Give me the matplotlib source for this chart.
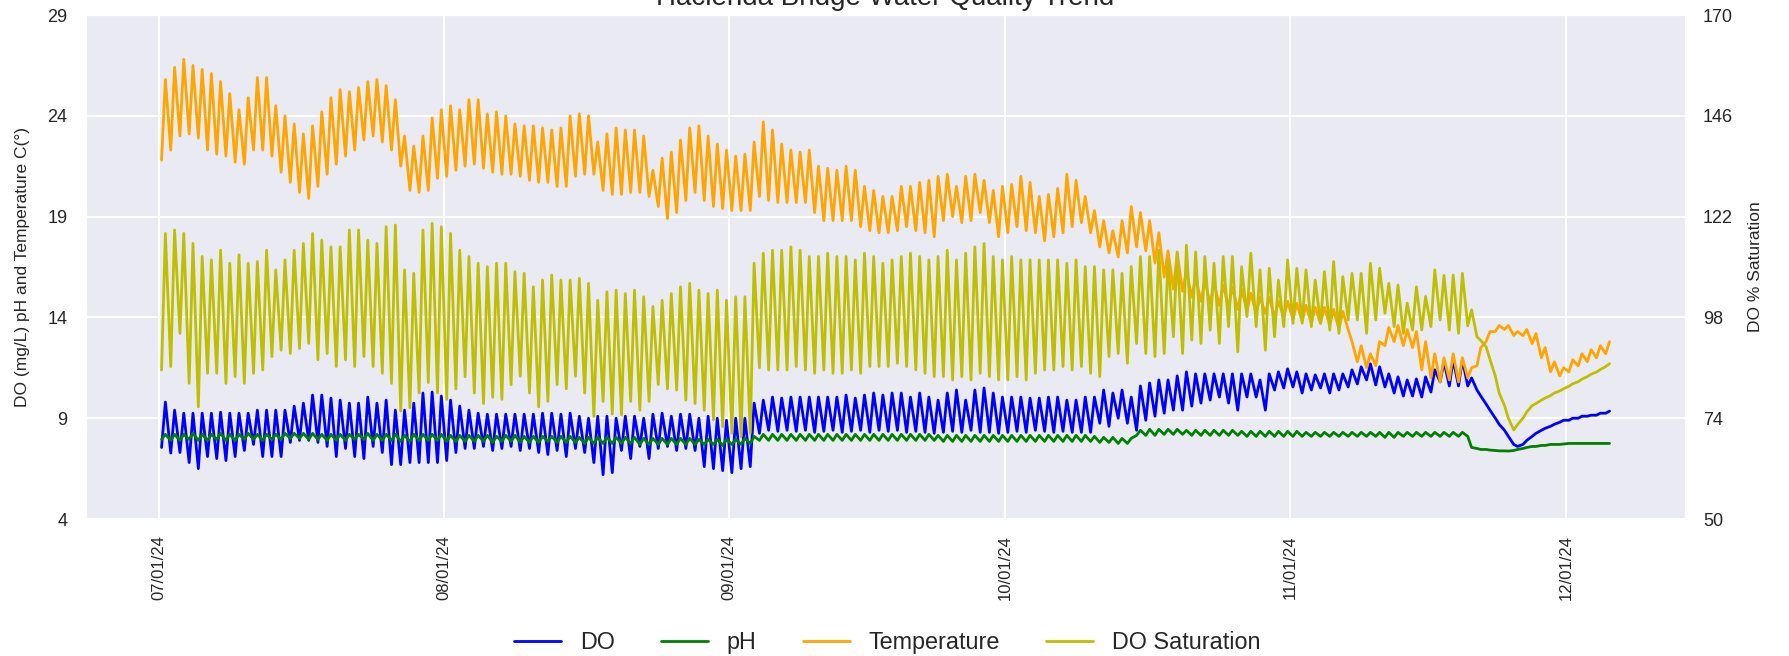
import matplotlib
matplotlib.use('Agg')
import matplotlib.pyplot as plt
import matplotlib.dates as mdates
import numpy as np
import pandas as pd
import seaborn as sns

START = '2024-07-01'

# one pair of readings per day from 07/01/24: morning (~07:00) and afternoon (~17:00)
temp_am = [
    21.8, 22.3, 23.0, 23.1, 22.9, 22.3, 22.1, 22.0, 21.7, 21.6,   # d0
    22.3, 22.3, 22.0, 21.2, 20.7, 20.2, 19.9, 20.5, 21.1, 21.6,   # d10
    22.0, 22.3, 22.8, 23.0, 22.7, 22.3, 21.5, 20.3, 20.2, 20.3,   # d20
    20.9, 21.0, 21.3, 21.5, 21.6, 21.4, 21.2, 21.1, 21.1, 21.0,   # d30
    20.8, 20.7, 20.7, 20.5, 20.5, 21.0, 21.1, 21.1, 20.3, 20.1,   # d40
    20.1, 20.2, 20.2, 20.0, 19.5, 18.9, 19.2, 19.8, 20.2, 19.8,   # d50
    19.5, 19.4, 19.3, 19.3, 19.3, 20.0, 19.8, 19.7, 19.7, 19.7,   # d60
    19.7, 19.2, 18.8, 18.8, 18.8, 18.8, 18.5, 18.3, 18.2, 18.2,   # d70
    18.3, 18.5, 18.3, 18.2, 18.0, 18.8, 19.0, 18.7, 18.8, 19.2,   # d80
    18.7, 18.0, 18.2, 18.5, 18.3, 18.2, 17.8, 18.0, 18.2, 18.5,   # d90
    18.7, 18.2, 17.5, 17.2, 17.0, 17.2, 17.5, 17.3, 16.7, 16.0,   # d100
    15.4, 15.3, 15.0, 14.8, 14.7, 14.6, 14.5, 14.4, 14.3, 14.2,   # d110
    14.2, 14.0, 14.0, 13.9, 13.8, 13.7, 13.7, 13.6, 13.4, 13.4,   # d120
    11.8, 11.5, 11.6, 12.6, 12.8, 12.6, 12.5, 11.4, 11.0, 10.8,   # d130
    10.9, 10.8, 11.0, 11.6, 12.8, 13.3, 13.4, 13.1, 13.1, 12.7,   # d140
    12.0, 11.3, 11.1, 11.3, 11.6, 11.8, 12.0, 12.2,               # d150
]
temp_pm = [
    25.8, 26.4, 26.8, 26.5, 26.3, 26.1, 25.7, 25.1, 24.3, 24.9,
    25.9, 25.9, 24.5, 24.0, 23.6, 23.1, 23.5, 24.2, 24.9, 25.3,
    25.2, 25.4, 25.7, 25.8, 25.5, 24.8, 23.0, 22.5, 23.0, 23.9,
    24.3, 24.5, 24.3, 24.8, 24.8, 24.1, 24.2, 24.0, 23.6, 23.5,
    23.5, 23.4, 23.3, 23.4, 24.0, 24.1, 24.0, 22.7, 23.1, 23.4,
    23.3, 23.3, 23.0, 21.3, 21.9, 22.2, 22.8, 23.4, 23.5, 23.0,
    22.6, 22.3, 22.0, 22.1, 22.7, 23.7, 23.3, 22.6, 22.3, 22.2,
    22.3, 21.5, 21.4, 21.3, 21.5, 21.3, 20.5, 20.3, 20.0, 20.0,
    20.5, 20.5, 20.7, 20.8, 21.0, 21.1, 20.5, 21.0, 21.1, 20.8,
    20.3, 20.5, 20.6, 21.0, 20.7, 20.0, 20.1, 20.4, 21.1, 20.8,
    20.0, 19.3, 18.8, 18.3, 18.8, 19.5, 19.2, 18.8, 18.2, 17.3,
    17.2, 16.3, 16.0, 15.8, 15.7, 15.6, 15.5, 15.4, 15.2, 15.0,
    15.0, 14.8, 14.8, 14.7, 14.6, 14.5, 14.5, 14.4, 14.3, 12.8,
    12.6, 12.2, 12.8, 13.5, 13.6, 13.4, 13.3, 12.8, 12.2, 12.0,
    12.2, 12.0, 11.5, 12.5, 13.3, 13.6, 13.6, 13.3, 13.4, 13.2,
    12.5, 11.8, 11.5, 11.9, 12.2, 12.4, 12.6, 12.8,
]

do_am = [
    7.55, 7.27, 7.3, 6.8, 6.5, 7.1, 7.0, 6.9, 7.1, 7.4,
    7.7, 7.1, 7.1, 7.1, 7.8, 7.9, 7.9, 7.8, 7.6, 7.1,
    7.5, 7.1, 7.0, 7.6, 7.3, 6.7, 6.7, 6.8, 6.8, 6.8,
    6.8, 6.9, 7.3, 7.5, 7.5, 7.6, 7.4, 7.5, 7.6, 7.4,
    7.5, 7.3, 7.2, 7.4, 7.1, 7.5, 7.3, 6.8, 6.2, 6.3,
    7.4, 7.0, 7.6, 7.0, 7.5, 7.6, 7.4, 7.5, 7.4, 6.6,
    6.5, 6.4, 6.3, 6.5, 6.6, 8.25, 8.4, 8.35, 8.4, 8.35,
    8.4, 8.3, 8.35, 8.4, 8.3, 8.35, 8.4, 8.3, 8.4, 8.35,
    8.4, 8.3, 8.35, 8.3, 8.25, 8.3, 8.35, 8.3, 8.4, 8.3,
    8.3, 8.25, 8.3, 8.35, 8.3, 8.4, 8.35, 8.3, 8.35, 8.3,
    8.3, 8.3, 8.75, 8.6, 9.0, 8.75, 8.4, 8.9, 9.1, 9.25,
    9.4, 9.4, 9.6, 9.75, 9.9, 10.05, 9.75, 9.4, 10.05, 10.05,
    9.4, 10.4, 10.5, 10.55, 10.25, 10.4, 10.5, 10.25, 10.4, 10.55,
    10.7, 10.9, 10.65, 10.55, 10.25, 10.1, 10.1, 10.05, 10.3, 10.8,
    10.6, 10.6, 10.6, 10.4, 9.7, 9.0, 8.4, 7.7, 7.7, 8.1,
    8.4, 8.6, 8.8, 8.9, 9.0, 9.1, 9.15, 9.25,
]
do_pm = [
    9.8, 9.4, 9.25, 9.25, 9.25, 9.25, 9.3, 9.25, 9.25, 9.25,
    9.4, 9.4, 9.4, 9.4, 9.6, 9.75, 10.15, 10.15, 10.0, 9.9,
    9.75, 9.75, 10.05, 9.75, 9.9, 9.4, 9.4, 9.75, 10.25, 10.3,
    10.1, 9.9, 9.6, 9.4, 9.25, 9.2, 9.2, 9.2, 9.2, 9.2,
    9.2, 9.25, 9.25, 9.2, 9.25, 9.1, 9.0, 9.1, 9.1, 9.0,
    9.1, 9.1, 9.0, 9.2, 9.25, 9.1, 9.2, 9.2, 9.0, 9.1,
    9.0, 8.9, 9.0, 9.0, 9.75, 9.9, 10.05, 10.0, 10.05, 10.05,
    10.05, 10.05, 10.05, 10.05, 10.15, 10.0, 10.15, 10.25, 10.15, 10.25,
    10.25, 10.05, 10.25, 10.05, 9.9, 10.25, 10.4, 9.9, 10.4, 10.5,
    10.25, 10.05, 10.05, 10.05, 10.0, 10.0, 10.05, 10.05, 9.9, 9.9,
    10.05, 10.05, 10.4, 10.25, 10.4, 10.05, 10.6, 10.75, 10.9, 10.9,
    11.1, 11.3, 11.2, 11.2, 11.2, 11.2, 11.2, 11.2, 11.2, 10.9,
    11.2, 11.3, 11.45, 11.3, 11.2, 11.15, 11.2, 11.2, 11.2, 11.4,
    11.55, 11.7, 11.55, 11.2, 11.05, 10.9, 10.95, 11.05, 11.4, 11.8,
    11.9, 11.9, 11.0, 10.1, 9.4, 8.7, 8.1, 7.6, 7.9, 8.25,
    8.5, 8.7, 8.9, 9.0, 9.1, 9.15, 9.25, 9.35,
]

ph_am = [
    7.95, 7.9, 7.9, 7.95, 7.9, 7.9, 7.95, 7.9, 7.9, 7.95,
    7.95, 7.9, 7.95, 7.95, 8.0, 8.0, 7.95, 7.95, 7.9, 7.9,
    7.9, 7.95, 7.95, 7.9, 7.9, 7.9, 7.85, 7.85, 7.9, 7.9,
    7.9, 7.85, 7.85, 7.85, 7.85, 7.85, 7.8, 7.85, 7.85, 7.8,
    7.8, 7.8, 7.85, 7.8, 7.8, 7.8, 7.75, 7.75, 7.75, 7.75,
    7.75, 7.75, 7.7, 7.7, 7.7, 7.7, 7.7, 7.7, 7.7, 7.7,
    7.7, 7.65, 7.7, 7.7, 7.75, 7.9, 7.9, 7.9, 7.9, 7.9,
    7.9, 7.9, 7.9, 7.9, 7.9, 7.9, 7.9, 7.9, 7.9, 7.9,
    7.9, 7.9, 7.9, 7.9, 7.9, 7.85, 7.85, 7.85, 7.85, 7.85,
    7.85, 7.85, 7.85, 7.85, 7.85, 7.85, 7.85, 7.85, 7.85, 7.85,
    7.85, 7.85, 7.8, 7.8, 7.75, 7.75, 8.15, 8.15, 8.15, 8.2,
    8.2, 8.2, 8.15, 8.15, 8.15, 8.15, 8.15, 8.15, 8.1, 8.1,
    8.1, 8.1, 8.1, 8.1, 8.1, 8.1, 8.1, 8.1, 8.1, 8.1,
    8.1, 8.1, 8.1, 8.05, 8.05, 8.1, 8.1, 8.1, 8.1, 8.1,
    8.1, 8.1, 8.1, 7.5, 7.45, 7.4, 7.38, 7.4, 7.5, 7.6,
    7.65, 7.7, 7.7, 7.75, 7.75, 7.75, 7.75, 7.75,
]
ph_pm = [
    8.2, 8.2, 8.2, 8.25, 8.2, 8.2, 8.25, 8.2, 8.2, 8.25,
    8.2, 8.2, 8.2, 8.25, 8.25, 8.25, 8.25, 8.2, 8.2, 8.2,
    8.2, 8.2, 8.25, 8.2, 8.2, 8.2, 8.15, 8.2, 8.2, 8.2,
    8.2, 8.15, 8.15, 8.15, 8.15, 8.15, 8.1, 8.15, 8.15, 8.1,
    8.1, 8.1, 8.1, 8.1, 8.1, 8.05, 8.05, 8.05, 8.05, 8.05,
    8.05, 8.05, 8.0, 8.0, 8.0, 8.0, 8.0, 8.0, 7.95, 7.95,
    7.95, 7.95, 7.95, 8.0, 8.1, 8.2, 8.2, 8.2, 8.2, 8.2,
    8.2, 8.2, 8.2, 8.2, 8.2, 8.2, 8.2, 8.2, 8.2, 8.2,
    8.2, 8.2, 8.2, 8.2, 8.15, 8.15, 8.15, 8.15, 8.15, 8.15,
    8.15, 8.15, 8.15, 8.15, 8.15, 8.15, 8.15, 8.15, 8.15, 8.15,
    8.15, 8.1, 8.05, 8.05, 8.0, 8.0, 8.4, 8.45, 8.45, 8.45,
    8.45, 8.4, 8.4, 8.4, 8.4, 8.4, 8.4, 8.35, 8.35, 8.35,
    8.35, 8.35, 8.35, 8.35, 8.3, 8.3, 8.3, 8.3, 8.3, 8.3,
    8.3, 8.3, 8.3, 8.3, 8.3, 8.3, 8.3, 8.3, 8.3, 8.3,
    8.3, 8.3, 7.55, 7.45, 7.42, 7.38, 7.37, 7.45, 7.55, 7.6,
    7.65, 7.7, 7.72, 7.75, 7.75, 7.75, 7.75, 7.75,
]

sat_am = [
    85.5, 86.3, 94.2, 82.3, 76.7, 84.7, 84.7, 82.3, 83.9, 82.3,
    84.7, 85.5, 88.7, 90.2, 89.4, 90.6, 91.8, 87.9, 89.4, 86.3,
    87.9, 86.3, 88.7, 86.3, 84.7, 82.3, 75.7, 76.5, 80.0, 82.5,
    80.0, 78.5, 81.0, 83.9, 80.0, 77.5, 79.0, 78.5, 82.0, 84.0,
    80.0, 76.7, 78.0, 82.0, 81.0, 84.0, 80.0, 74.4, 78.0, 75.0,
    74.8, 78.0, 75.9, 78.0, 82.0, 81.0, 80.7, 78.3, 77.5, 75.9,
    73.6, 72.0, 70.4, 69.6, 70.4, 86.0, 85.5, 85.5, 85.5, 86.3,
    85.5, 84.7, 85.5, 84.7, 84.7, 85.5, 84.7, 86.3, 86.3, 86.3,
    87.1, 86.3, 85.5, 84.7, 83.9, 83.9, 83.1, 83.9, 83.1, 84.7,
    83.9, 83.1, 83.1, 83.9, 83.1, 84.7, 85.5, 85.5, 86.3, 85.5,
    86.3, 84.7, 83.9, 88.7, 89.4, 87.1, 91.8, 89.4, 88.7, 89.4,
    93.4, 89.4, 92.6, 91.8, 95.0, 91.8, 95.8, 89.8, 98.2, 95.8,
    90.2, 93.4, 95.8, 96.6, 96.6, 95.8, 96.6, 95.0, 94.2, 97.4,
    97.4, 94.2, 97.4, 99.0, 95.8, 94.2, 95.0, 95.0, 95.8, 97.4,
    95.0, 94.2, 96.0, 93.4, 91.0, 84.0, 77.0, 71.2, 74.0, 77.0,
    78.3, 79.4, 80.5, 81.6, 82.7, 83.9, 85.0, 86.3,
]
sat_pm = [
    118.0, 118.8, 118.0, 115.6, 112.5, 111.7, 114.0, 110.9, 112.9, 110.9,
    111.3, 114.0, 109.3, 111.7, 114.0, 115.6, 118.0, 116.4, 114.8, 114.8,
    118.8, 118.8, 116.4, 115.6, 119.6, 120.0, 109.3, 108.5, 118.8, 120.4,
    119.6, 118.0, 114.0, 112.5, 110.9, 110.1, 110.9, 110.9, 108.9, 108.5,
    105.3, 106.9, 108.1, 106.9, 106.9, 107.3, 106.1, 102.1, 104.1, 104.5,
    103.7, 104.5, 102.9, 100.6, 102.1, 103.7, 105.3, 106.1, 104.5, 103.7,
    104.5, 102.1, 102.9, 102.9, 110.9, 113.3, 114.0, 114.0, 114.8, 114.0,
    112.5, 112.5, 113.3, 112.5, 112.5, 111.7, 113.3, 112.5, 110.9, 111.7,
    112.5, 113.3, 112.5, 111.7, 112.5, 114.0, 111.7, 113.3, 114.8, 115.6,
    112.5, 111.7, 112.5, 111.7, 111.7, 111.7, 111.7, 111.7, 110.9, 111.7,
    110.1, 110.1, 109.3, 109.3, 108.5, 110.1, 112.5, 112.5, 114.0, 111.7,
    113.6, 115.2, 113.6, 112.5, 110.9, 112.5, 112.5, 110.1, 113.3, 109.3,
    109.7, 106.9, 111.7, 109.7, 109.3, 106.9, 108.9, 111.3, 107.7, 108.5,
    108.5, 110.9, 109.7, 106.1, 105.7, 101.4, 105.3, 103.0, 109.3, 108.0,
    108.1, 108.5, 99.8, 92.5, 88.0, 80.0, 74.0, 72.5, 75.5, 77.5,
    78.8, 80.0, 81.0, 82.2, 83.3, 84.5, 85.6, 87.0,
]


def daily_series(am, pm):
    days = (pd.Timestamp(START) + pd.to_timedelta(np.arange(len(am)), unit='D')).values
    t = np.column_stack([days + np.timedelta64(7, 'h'), days + np.timedelta64(17, 'h')]).ravel()
    v = np.column_stack([am, pm]).ravel()
    return t, v


def main():
    sns.set_style('darkgrid')
    plt.rcParams['font.family'] = ['Liberation Sans', 'DejaVu Sans']
    plt.rcParams['grid.linewidth'] = 1.4

    fig, ax = plt.subplots(figsize=(17.89, 6.56), dpi=100)
    fig.subplots_adjust(left=0.0481, right=0.9419, top=0.9771, bottom=0.2088)
    ax2 = ax.twinx()
    ax2.grid(False)

    lw = 2.0
    t, v = daily_series(do_am, do_pm)
    ax.plot(t, v, color='blue', lw=lw, label='DO')
    t, v = daily_series(ph_am, ph_pm)
    ax.plot(t, v, color='green', lw=lw, label='pH')
    t, v = daily_series(temp_am, temp_pm)
    ax.plot(t, v, color='orange', lw=lw, label='Temperature')
    t, v = daily_series(sat_am, sat_pm)
    ax2.plot(t, v, color='y', lw=lw, label='DO Saturation')

    ax.set_xlim(pd.Timestamp('2024-06-23 02:00'), pd.Timestamp('2024-12-13 22:00'))
    ax.set_ylim(4, 29)
    ax.set_yticks(np.linspace(4, 29, 6))
    ax2.set_ylim(50, 170)
    ax2.set_yticks(np.linspace(50, 170, 6))

    ax.xaxis.set_major_locator(mdates.MonthLocator())
    ax.xaxis.set_major_formatter(mdates.DateFormatter('%m/%d/%y'))
    ax.tick_params(axis='x', labelsize=12, length=0, pad=11.5, labelrotation=90)
    ax.tick_params(axis='y', labelsize=13, length=0, pad=13.5)
    ax2.tick_params(axis='y', labelsize=13, length=0, pad=13)

    ax.set_ylabel('DO (mg/L) pH and Temperature C(°)', fontsize=12.5)
    ax.yaxis.set_label_coords(-0.035, 0.5)
    ax2.set_ylabel('DO % Saturation', fontsize=12.5)
    ax2.yaxis.set_label_coords(1.0394, 0.5)
    ax.set_title('Hacienda Bridge Water Quality Trend', fontsize=20, pad=7)

    h1, l1 = ax.get_legend_handles_labels()
    h2, l2 = ax2.get_legend_handles_labels()
    fig.legend(h1 + h2, l1 + l2, loc='center', bbox_to_anchor=(0.496, 0.02),
               ncol=4, frameon=False, fontsize=16.8, handlelength=2.0)

    fig.savefig('out.png', dpi=100)


if __name__ == '__main__':
    main()
